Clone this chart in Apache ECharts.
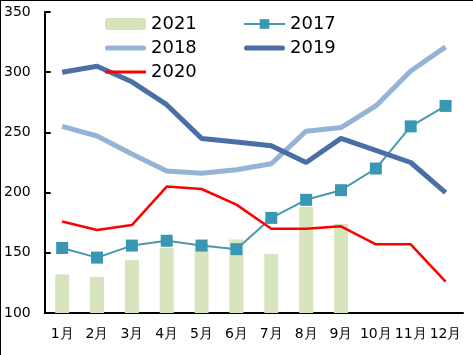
<!DOCTYPE html>
<html><head><meta charset="utf-8">
<script src="https://cdn.jsdelivr.net/npm/echarts@6/dist/echarts.min.js"></script>
<style>
html,body{margin:0;padding:0;background:#fff;}
#c{width:472px;height:354px;border-left:1px solid #000;border-top:1px solid #000;}
</style></head>
<body><div id="c"></div>
<script>
const categories = ['1月','2月','3月','4月','5月','6月','7月','8月','9月','10月','11月','12月'];
const s2021 = [132, 130, 144, 154, 157, 161, 149, 188, 174, null, null, null];
const s2017 = [154, 146, 156, 160, 156, 153, 179, 194, 202, 220, 255, 272];
const s2018 = [255, 247, 232, 218, 216, 219, 224, 251, 254, 272, 301, 321];
const s2019 = [300, 305, 292, 273, 245, 242, 239, 225, 245, 235, 225, 200];
const s2020 = [176, 169, 173, 205, 203, 190, 170, 170, 172, 157, 157, 126];
const yTicks = [100, 150, 200, 250, 300, 350];

const font = 'DejaVu Sans';
const thickIcon = 'path://M2.5,0 L37.5,0 A2.5,2.5 0 0 1 37.5,5 L2.5,5 A2.5,2.5 0 0 1 2.5,0 Z';
const thinIcon = 'path://M0,0 L40,0 L40,3 L0,3 Z';
const legendText = {fontSize: 18, color: '#000', fontFamily: font};
const chart = echarts.init(document.getElementById('c'));
chart.setOption({
  animation: false,
  textStyle: {fontFamily: font},
  grid: {left: 43, right: 10, top: 11, bottom: 42},
  legend: [
    {left: 99, top: 9, orient: 'vertical', itemGap: 6, itemWidth: 41, itemHeight: 12,
     textStyle: legendText,
     data: [{name: '2021'}, {name: '2018', icon: thickIcon}, {name: '2020', icon: thinIcon}]},
    {left: 237, top: 9, orient: 'vertical', itemGap: 6, itemWidth: 41, itemHeight: 12,
     textStyle: legendText,
     data: [{name: '2017'}, {name: '2019', icon: thickIcon}]}
  ],
  xAxis: {
    type: 'category', data: categories, boundaryGap: true,
    axisLine: {lineStyle: {color: '#000', width: 2}},
    axisTick: {inside: true, length: 6, lineStyle: {color: '#000', width: 2}},
    axisLabel: {color: '#000', fontSize: 14, margin: 14, interval: 0, fontFamily: font},
    splitLine: {show: false}
  },
  yAxis: {
    type: 'value', min: yTicks[0], max: yTicks[yTicks.length - 1], interval: 50,
    axisLine: {show: true, lineStyle: {color: '#000', width: 2}},
    axisTick: {show: true, inside: true, length: 6, lineStyle: {color: '#000', width: 2}},
    axisLabel: {color: '#000', fontSize: 14, margin: 14, fontFamily: font},
    splitLine: {show: false}
  },
  series: [
    {name: '2021', type: 'bar', data: s2021, barWidth: 14,
     itemStyle: {color: '#d7e4bd'}},
    {name: '2017', type: 'line', data: s2017, symbol: 'rect', symbolSize: 12,
     itemStyle: {color: '#3a97b3'}, lineStyle: {color: '#4a98b0', width: 2}},
    {name: '2018', type: 'line', data: s2018, symbol: 'none', showSymbol: false,
     itemStyle: {color: '#95b3d7'}, lineStyle: {color: '#95b3d7', width: 5}},
    {name: '2019', type: 'line', data: s2019, symbol: 'none', showSymbol: false,
     itemStyle: {color: '#4a6fa5'}, lineStyle: {color: '#4a6fa5', width: 5}},
    {name: '2020', type: 'line', data: s2020, symbol: 'none', showSymbol: false,
     itemStyle: {color: '#ff0000'}, lineStyle: {color: '#ff0000', width: 2.5}}
  ]
});
</script></body></html>
